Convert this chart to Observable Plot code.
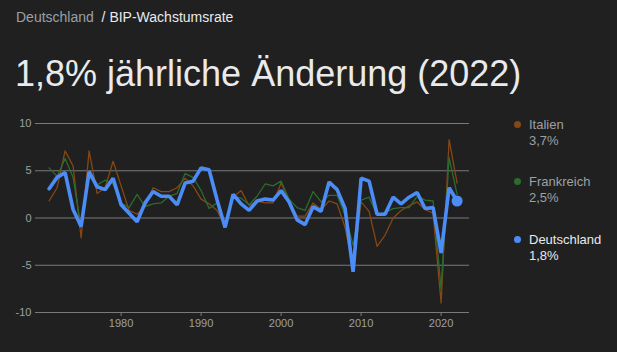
<!DOCTYPE html>
<html>
<head>
<meta charset="utf-8">
<script src="https://cdn.jsdelivr.net/npm/d3@7"></script>
<script src="https://cdn.jsdelivr.net/npm/@observablehq/plot@0.6"></script>
<style>
  html, body { margin: 0; padding: 0; background: #202020; width: 617px; height: 352px; overflow: hidden; }
  body { position: relative; font-family: "Liberation Sans", Arial, sans-serif; }
  #crumb { position: absolute; left: 16px; top: 9px; font-size: 14px; color: #e8eaed; white-space: nowrap; }
  #crumb .muted { color: #9aa0a6; }
  #title { position: absolute; left: 15px; top: 54px; font-size: 36px; color: #e8eaed; white-space: nowrap; line-height: 40px; }
  #chart { position: absolute; left: 0; top: 110px; }
  .leg { position: absolute; left: 517px; font-size: 13px; line-height: 16px; color: #9aa0a6; white-space: nowrap; }
  .leg .dot { position: absolute; left: -3.5px; top: 4px; width: 7px; height: 7px; border-radius: 50%; }
  .leg .txt { position: absolute; left: 12px; top: 0; }
  .leg.active { color: #e8eaed; }
</style>
</head>
<body>
<div id="crumb"><span class="muted">Deutschland</span>&nbsp; /&nbsp;BIP-Wachstumsrate</div>
<div id="title"></div>
<div id="chart"></div>
<div id="legend"></div>
<script>
const years = [1971,1972,1973,1974,1975,1976,1977,1978,1979,1980,1981,1982,1983,1984,1985,1986,1987,1988,1989,1990,1991,1992,1993,1994,1995,1996,1997,1998,1999,2000,2001,2002,2003,2004,2005,2006,2007,2008,2009,2010,2011,2012,2013,2014,2015,2016,2017,2018,2019,2020,2021,2022];
const deutschland = [3.1,4.3,4.8,0.9,-0.9,4.9,3.3,3.0,4.2,1.4,0.5,-0.4,1.6,2.8,2.3,2.3,1.4,3.7,3.9,5.3,5.1,1.9,-1.0,2.5,1.5,0.8,1.8,2.0,1.9,2.9,1.7,-0.2,-0.7,1.2,0.7,3.8,3.0,1.0,-5.7,4.2,3.9,0.4,0.4,2.2,1.5,2.2,2.7,1.0,1.1,-3.7,3.2,1.8];
const frankreich = [5.3,4.4,6.3,4.3,-1.0,4.4,3.5,4.0,3.6,1.6,1.1,2.5,1.2,1.5,1.6,2.3,2.6,4.7,4.3,2.9,1.0,1.6,-0.6,2.3,2.1,1.4,2.3,3.6,3.4,3.9,2.0,1.1,0.8,2.8,1.7,2.4,2.4,0.3,-2.9,1.9,2.2,0.3,0.6,1.0,1.1,1.1,2.3,1.9,1.8,-7.5,6.4,2.5];
const italien = [1.8,3.2,7.1,5.5,-2.1,7.1,2.6,3.2,6.0,3.4,0.8,0.4,1.2,3.2,2.8,2.8,3.2,4.2,3.4,2.0,1.5,0.8,-0.9,2.2,2.9,1.3,1.8,1.6,1.6,3.7,1.8,0.2,0.2,1.6,0.9,1.8,1.5,-1.0,-5.3,1.7,0.7,-3.0,-1.8,0.0,0.8,1.3,1.7,0.9,0.5,-9.0,8.3,3.7];
const seriesNames = ["Italien","Frankreich","Deutschland"];
const seriesLabels = ["3,7%","2,5%","1,8%"];
const yTicks = [-10,-5,0,5,10];
const xTicks = [1980,1990,2000,2010,2020];
const titleText = "1,8% jährliche Änderung (2022)";

const colors = {Italien: "#854714", Frankreich: "#2c6a30", Deutschland: "#4b8cf6"};
const rows = s => years.map((y, i) => ({year: y, value: s[i]}));
const dIt = rows(italien), dFr = rows(frankreich), dDe = rows(deutschland);

document.getElementById("title").textContent = titleText;

const plot = Plot.plot({
  width: 480,
  height: 230,
  marginLeft: 35,
  marginRight: 11,
  marginTop: 13,
  marginBottom: 28,
  style: {background: "transparent", color: "#9aa0a6", fontSize: "11px", fontFamily: "'Liberation Sans', Arial, sans-serif"},
  x: {domain: [1969.3, 2023.55]},
  y: {domain: [-10, 10]},
  marks: [
    Plot.gridY(yTicks, {stroke: "#7a7a7a", strokeOpacity: 1, strokeWidth: 1}),
    Plot.axisY(yTicks, {tickSize: 0, tickPadding: 4, tickFormat: d => String(d), fill: "#9aa0a6", label: null}),
    Plot.axisX(xTicks, {tickSize: 4, tickPadding: 3, tickFormat: d => String(d), stroke: "#7a7a7a", fill: "#9aa0a6", label: null}),
    Plot.line(dIt, {x: "year", y: "value", stroke: colors.Italien, strokeWidth: 1.3}),
    Plot.line(dFr, {x: "year", y: "value", stroke: colors.Frankreich, strokeWidth: 1.3}),
    Plot.line(dDe, {x: "year", y: "value", stroke: colors.Deutschland, strokeWidth: 3.6, strokeLinejoin: "miter"}),
    Plot.dot(dDe.slice(-1), {x: "year", y: "value", r: 5.5, fill: colors.Deutschland})
  ]
});
document.getElementById("chart").appendChild(plot);

const tops = [117, 174, 232];
const leg = document.getElementById("legend");
seriesNames.forEach((name, i) => {
  const el = document.createElement("div");
  el.className = "leg" + (name === "Deutschland" ? " active" : "");
  el.style.top = tops[i] + "px";
  el.innerHTML = `<span class="dot" style="background:${colors[name]}"></span><div class="txt">${name}<br>${seriesLabels[i]}</div>`;
  leg.appendChild(el);
});
</script>
</body>
</html>
